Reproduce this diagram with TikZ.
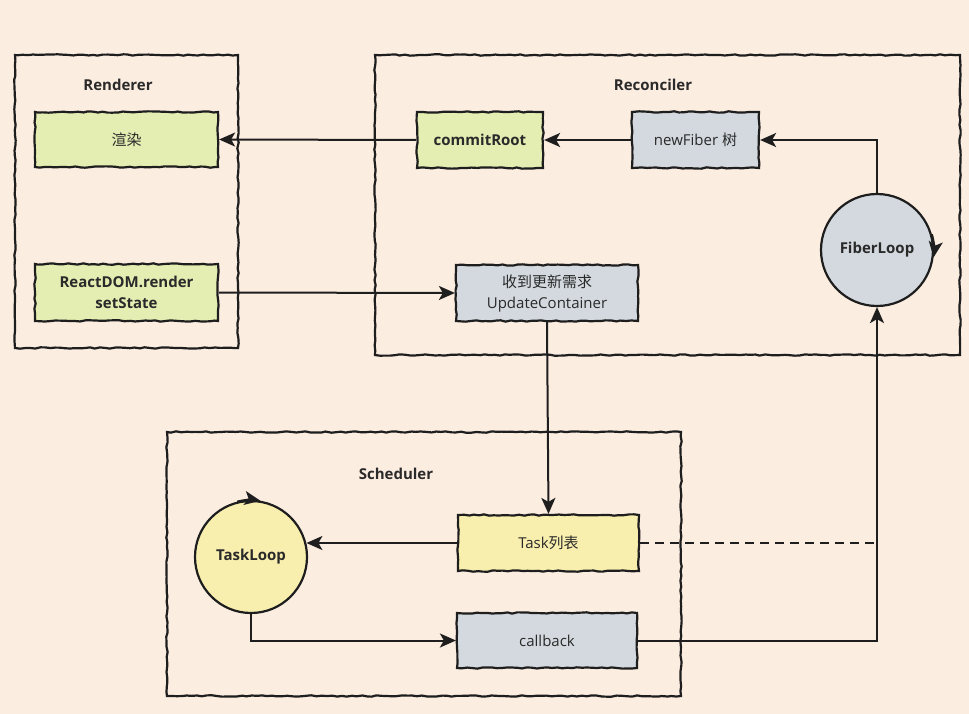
\documentclass[tikz,border=0pt]{standalone}
\usepackage{fontspec}
\setmainfont{Open Sans}
\newfontfamily\cjk{Noto Sans CJK SC}
\usetikzlibrary{arrows.meta,decorations.pathmorphing,calc}
\definecolor{bgc}{HTML}{FCEDE1}
\definecolor{greenf}{HTML}{E4EDB2}
\definecolor{grayf}{HTML}{D3D9DE}
\definecolor{yellowf}{HTML}{F8EEAE}
\definecolor{inkc}{HTML}{1E1E1E}
\definecolor{txtc}{HTML}{2A2A2A}
\tikzset{
  wob/.style={decorate, decoration={random steps, segment length=5pt, amplitude=0.7pt}},
  frame/.style={draw=inkc, line width=2.2pt, wob, inner sep=0pt},
  boxn/.style={draw=inkc, line width=2.2pt, wob, inner sep=0pt, text=txtc,
    font=\fontsize{15}{19}\selectfont, align=center},
  loopn/.style={circle, draw=inkc, line width=2.2pt, inner sep=0pt, minimum size=112pt,
    text=txtc, font=\fontsize{15}{19}\selectfont\bfseries},
  title/.style={text=txtc, font=\fontsize{15}{18}\selectfont\bfseries},
  conn/.style={draw=inkc, line width=2pt},
  arr/.style={conn, -{Stealth[length=16pt,width=14pt,inset=4pt]}},
}
\begin{document}
\begin{tikzpicture}[x=1pt,y=-1pt]
\fill[bgc] (0,0) rectangle (969,714);
\useasboundingbox (0,0) rectangle (969,714);
% containers
\node[frame, minimum width=223pt, minimum height=293pt] (renderer) at (126.5,201.5) {};
\node[frame, minimum width=585pt, minimum height=300pt] (reconciler) at (667.5,205) {};
\node[frame, minimum width=514pt, minimum height=264pt] (scheduler) at (424,564) {};
\node[title] (trend) at (118,85) {Renderer};
\node[title] (trec) at (653,85) {Reconciler};
\node[title] (tsch) at (396,474) {Scheduler};
% boxes
\node[boxn, fill=greenf, minimum width=183pt, minimum height=55pt] (render) at (126.5,139.5) {\cjk 渲染};
\node[boxn, fill=greenf, minimum width=183pt, minimum height=57pt, font=\fontsize{15}{21}\selectfont\bfseries] (rd) at (126.5,292.5) {ReactDOM.render\\setState};
\node[boxn, fill=greenf, minimum width=126pt, minimum height=56pt, font=\fontsize{15}{19}\selectfont\bfseries] (cr) at (480,140) {commitRoot};
\node[boxn, fill=grayf, minimum width=127pt, minimum height=56pt] (nf) at (695.5,140) {newFiber {\cjk 树}};
\node[boxn, fill=grayf, minimum width=182pt, minimum height=56pt, font=\fontsize{15}{21}\selectfont] (uc) at (547,293) {{\cjk 收到更新需求}\\UpdateContainer};
\node[loopn, fill=grayf] (fl) at (877,250) {FiberLoop};
\node[boxn, fill=yellowf, minimum width=181pt, minimum height=56pt] (task) at (548.5,543) {Task{\cjk 列表}};
\node[boxn, fill=grayf, minimum width=180pt, minimum height=55pt] (cb) at (547,640.5) {callback};
\node[loopn, fill=yellowf] (tl) at (251,557) {TaskLoop};
% connectors
\draw[arr] (cr.west) -- (render.east);
\draw[arr] (nf.west) -- (cr.east);
\draw[arr] (fl.north) |- (nf.east);
\draw[arr] (rd.east) -- (uc.west);
\draw[arr] (uc.south) -- (task.north);
\draw[arr] (task.west) -- (task.west -| tl.14.5);
\draw[arr] (tl.south) |- (cb.west);
\draw[arr] (cb.east) -| (fl.south);
\coordinate (dashend) at (task.east -| fl.south);
\draw[conn, dashed, dash pattern=on 9pt off 6pt] (task.east) -- (dashend);
% loop arrows on circles
\draw[arr] (fl.16) arc[start angle=16, end angle=-8, radius=56pt];
\draw[arr] (tl.104) arc[start angle=104, end angle=80, radius=56pt];
\end{tikzpicture}
\end{document}
